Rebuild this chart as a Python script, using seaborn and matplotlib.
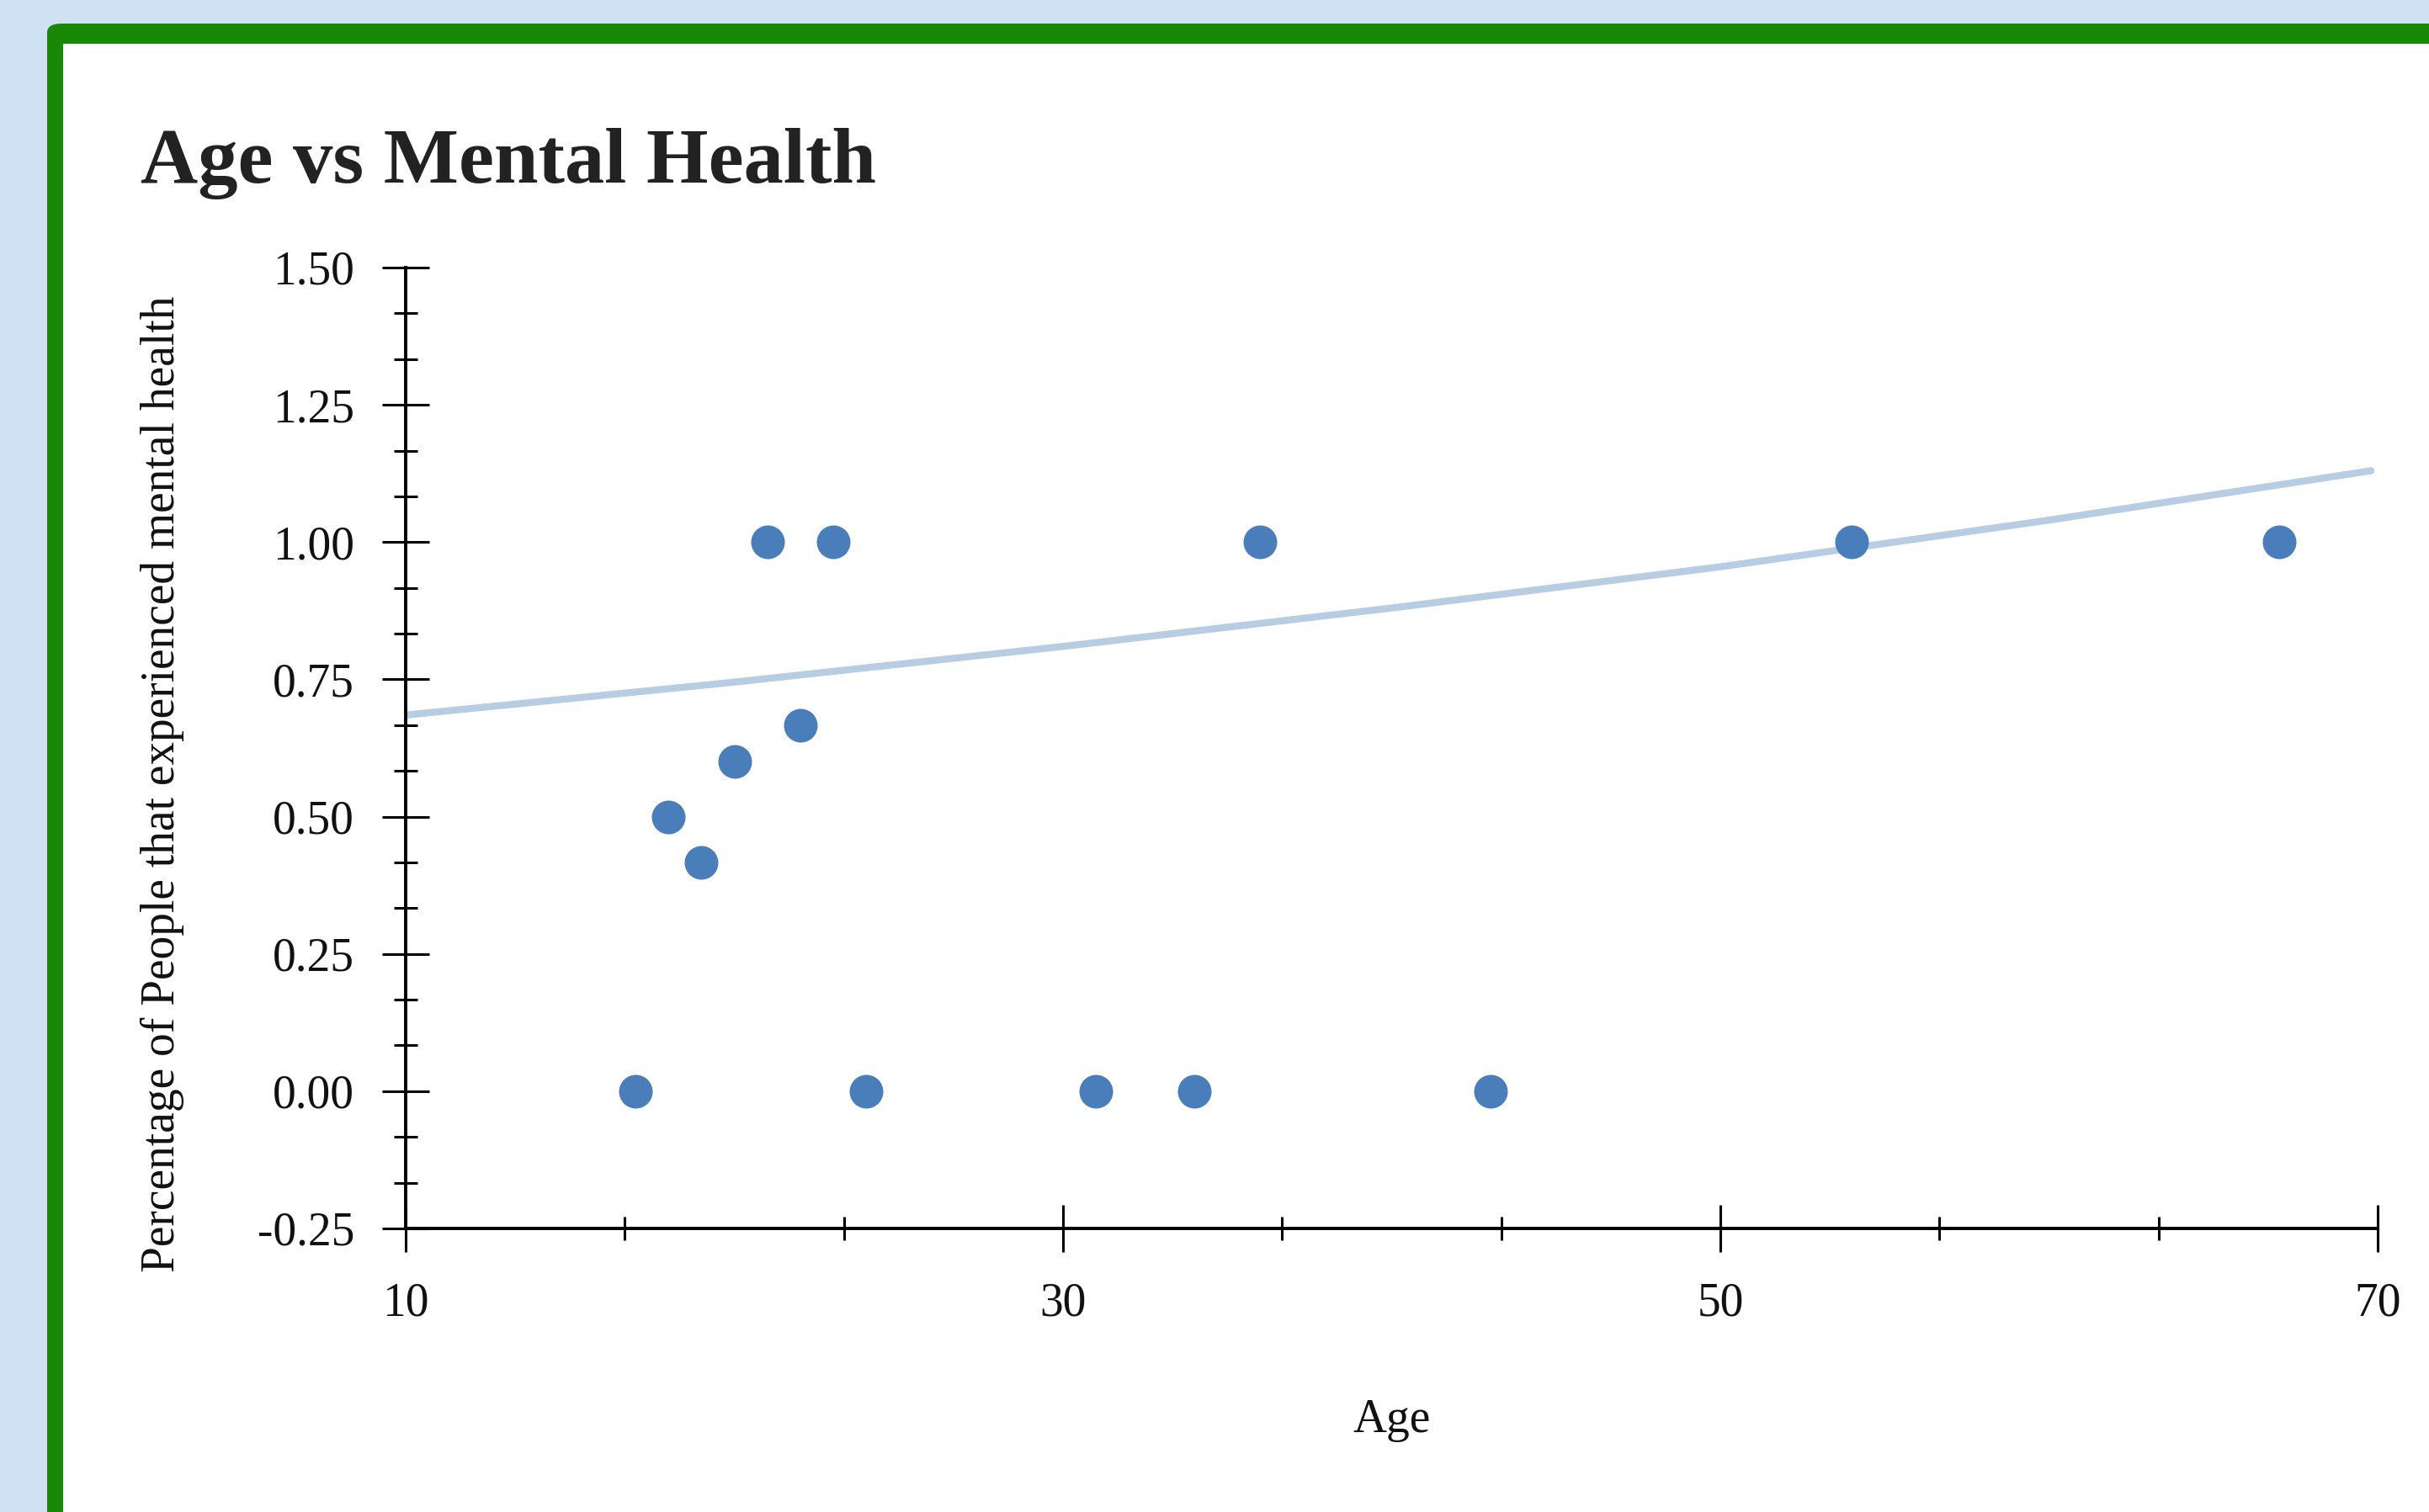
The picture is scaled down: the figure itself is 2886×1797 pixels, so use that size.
# %%
import numpy as np
import pandas as pd
import matplotlib.pyplot as plt
import seaborn as sns
from matplotlib.patches import FancyBboxPatch, Rectangle
from matplotlib.ticker import AutoMinorLocator, FormatStrFormatter

sns.set_theme(style="white")
plt.rcParams['font.family'] = ['Liberation Serif', 'DejaVu Serif']
plt.rcParams['axes.unicode_minus'] = False

# %%
# survey points
ages = [17, 18, 19, 20, 21, 22, 23, 24, 31, 34, 36, 43, 54, 67]
pct = [0, 0.5, 0.4167, 0.6, 1, 0.6667, 1, 0, 0, 0, 1, 0, 1, 1]

# trend line as drawn in the chart
trend_age = [10, 20, 30, 40, 50, 60, 69.8]
trend_pct = [0.685, 0.745, 0.81, 0.88, 0.955, 1.04, 1.13]

x_ticks = [10, 30, 50, 70]
y_ticks = [-0.25, 0, 0.25, 0.5, 0.75, 1.0, 1.25, 1.5]

df = pd.DataFrame({"Age": ages, "Pct": pct})
trend = pd.DataFrame({"Age": trend_age, "Pct": trend_pct})

# %%
W, H = 2886, 1797
fig = plt.figure(figsize=(W / 100, H / 100), dpi=100, facecolor="#cfe2f3")

# green card frame
frame = FancyBboxPatch((56 / W, -0.1), 1.2, 1.1 - 28 / H,
                       boxstyle="round,pad=0,rounding_size=0.006",
                       transform=fig.transFigure, facecolor="#188805",
                       edgecolor="none", zorder=0)
fig.add_artist(frame)
inner = Rectangle((75 / W, -0.1), 1.2, 1.1 - 52 / H, transform=fig.transFigure,
                  facecolor="white", edgecolor="none", zorder=0)
fig.add_artist(inner)

ax = fig.add_axes([482 / W, 1 - 1460 / H, (2825 - 482) / W, (1460 - 318) / H])
ax.set_facecolor("none")

sns.lineplot(data=trend, x="Age", y="Pct", color="#b8cce4", linewidth=6,
             ax=ax, zorder=2)
sns.scatterplot(data=df, x="Age", y="Pct", color="#4a7ebb", s=830,
                linewidth=0, ax=ax, zorder=3)

ax.set_xlim(10, 70)
ax.set_ylim(-0.25, 1.5)
ax.set_xticks(x_ticks)
ax.set_yticks(y_ticks)
ax.yaxis.set_major_formatter(FormatStrFormatter("%.2f"))
ax.xaxis.set_minor_locator(AutoMinorLocator(3))
ax.yaxis.set_minor_locator(AutoMinorLocator(3))

for s in ["top", "right"]:
    ax.spines[s].set_visible(False)
for s in ["left", "bottom"]:
    ax.spines[s].set_color("black")
    ax.spines[s].set_linewidth(2.8)

ax.tick_params(which="major", direction="inout", length=40, width=2.2,
               color="black", labelsize=40, labelcolor="#111111")
ax.tick_params(which="minor", direction="inout", length=20, width=2.2,
               color="black")
ax.tick_params(axis="x", which="major", pad=26, bottom=True)
ax.tick_params(axis="y", which="major", pad=24, left=True)
ax.tick_params(axis="x", which="minor", bottom=True)
ax.tick_params(axis="y", which="minor", left=True)

ax.set_xlabel("Age", fontsize=40, color="#111111")
ax.set_ylabel("Percentage of People that experienced mental health",
              fontsize=40, color="#111111")
ax.xaxis.set_label_coords(0.5, -0.2)
ax.xaxis.label.set_va("center")
ax.yaxis.set_label_coords(-0.1233, 0.4625)
ax.yaxis.label.set_va("center")

fig.text(167 / W, 1 - 217 / H, "Age vs Mental Health", fontsize=68,
         fontweight="bold", color="#222222", ha="left", va="baseline")

fig.savefig("out.png", dpi=100, facecolor=fig.get_facecolor())
